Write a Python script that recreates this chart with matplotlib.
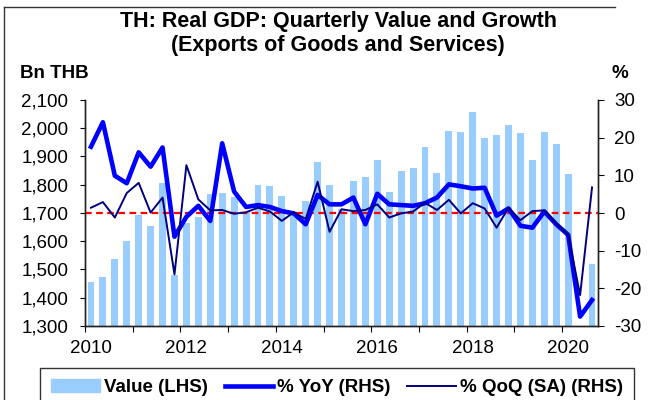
import numpy as np
import matplotlib
matplotlib.use('Agg')
import matplotlib.pyplot as plt
import matplotlib.lines as mlines
import matplotlib.patches as mp

plt.rcParams['font.family'] = ['Liberation Sans', 'DejaVu Sans']

# quarterly data 2010Q1 .. 2020Q3
years = list(range(2010, 2021))
year_labels = ['2010', '2012', '2014', '2016', '2018', '2020']
value = [1456, 1472, 1537, 1602, 1692, 1653, 1805, 1480, 1666, 1685, 1767,
         1771, 1758, 1705, 1800, 1797, 1761, 1702, 1744, 1882, 1800, 1715,
         1813, 1828, 1889, 1773, 1849, 1858, 1934, 1843, 1989, 1987, 2056,
         1967, 1975, 2013, 1984, 1888, 1986, 1943, 1839, 1290, 1520]
yoy = [17.6, 24.1, 9.9, 7.9, 16.1, 12.3, 17.4, -6.3, -1.0, 1.9, -2.1, 18.5,
       5.7, 1.6, 2.1, 1.6, 0.5, -0.1, -3.0, 4.8, 2.3, 2.3, 4.1, -3.0, 5.1,
       2.3, 2.1, 1.9, 2.6, 4.1, 7.6, 7.1, 6.5, 6.7, -0.7, 1.2, -3.4, -3.9,
       0.4, -3.0, -5.8, -27.5, -23.1]
qoq = [1.4, 2.9, -1.2, 5.3, 8.0, 0.1, 4.1, -16.3, 12.7, 3.6, 0.7, 0.8,
       -0.2, 0.2, 1.4, 0.4, -2.1, 0.2, -1.6, 8.3, -5.0, 1.0, 0.5, 0.8, 2.3,
       -1.2, -0.1, 0.4, 2.7, 0.8, 3.5, -0.1, 2.6, 1.2, -3.9, 1.4, -1.9, 0.5,
       0.7, -2.7, -5.8, -21.8, 6.8]

bar_color = '#99ccff'
yoy_color = '#0000ff'
qoq_color = '#000080'
fs = 13.5

n = len(value)
x = np.arange(n) + 0.5

fig = plt.figure(figsize=(6.48, 4.0), dpi=100)
ax = fig.add_axes([85/648, 1-326/400, (598-85)/648, 226/400])
ax.bar(x, value, width=0.58, color=bar_color, zorder=1)
ax.set_xlim(0, n)
ax.set_ylim(1300, 2100)
lt = np.arange(1300, 2101, 100)
ax.set_yticks(lt)
ax.set_yticklabels([f'{v:,}' for v in lt], fontsize=fs)

# year boundary ticks, labels under Q1 of even years
ax.set_xticks([4*i for i in range(len(years))])
ax.set_xticklabels([])
ax.set_xticks([8*i + 0.5 for i in range(len(year_labels))], minor=True)
ax.set_xticklabels(year_labels, minor=True, fontsize=fs)
ax.tick_params(axis='x', which='minor', length=0, pad=10)
ax.tick_params(axis='x', which='major', direction='out', length=4)
ax.tick_params(axis='y', direction='out', length=3.5, pad=8.5)

ax2 = ax.twinx()
ax2.set_ylim(-30, 30)
rt = np.arange(-30, 31, 10)
ax2.set_yticks(rt)
ax2.set_yticklabels([str(v) for v in rt], fontsize=fs)
ax2.tick_params(axis='y', direction='out', length=4, pad=7.5)
ax2.axhline(0, color='red', ls=(0, (3, 2)), lw=1.6, zorder=1)
ax2.plot(x, yoy, color=yoy_color, lw=3.3, zorder=2)
ax2.plot(x, qoq, color=qoq_color, lw=1.4, zorder=3)

for a in (ax, ax2):
    a.spines['top'].set_visible(False)
    for s in ('left', 'right', 'bottom'):
        a.spines[s].set_color('#222222')
        a.spines[s].set_linewidth(1.0)

fig.text(338/648, 1-22/400, 'TH: Real GDP: Quarterly Value and Growth',
         ha='center', va='center', fontsize=15.5, fontweight='bold')
fig.text(338/648, 1-46/400, '(Exports of Goods and Services)',
         ha='center', va='center', fontsize=15.5, fontweight='bold')
fig.text(20/648, 1-73/400, 'Bn THB', ha='left', va='center',
         fontsize=fs, fontweight='bold')
fig.text(612/648, 1-73/400, '%', ha='left', va='center',
         fontsize=fs, fontweight='bold')

handles = [mp.Patch(color=bar_color, label='Value (LHS)'),
           mlines.Line2D([], [], color=yoy_color, lw=3.3, label='% YoY (RHS)'),
           mlines.Line2D([], [], color=qoq_color, lw=1.4,
                         label='% QoQ (SA) (RHS)')]
leg = fig.legend(handles=handles, loc='upper center',
                 bbox_to_anchor=(337/648, 1-368/400), ncol=3, frameon=True,
                 fancybox=False, edgecolor='black', handlelength=2.6,
                 handletextpad=0.2, columnspacing=0.9, borderpad=0.6,
                 borderaxespad=0, prop={'size': fs, 'weight': 'bold'})
leg.get_frame().set_linewidth(1.0)

# outer frame
fig.add_artist(mlines.Line2D([4/648, 4/648], [0, 1-7/400], color='#333333',
                             lw=1.0, transform=fig.transFigure))
fig.add_artist(mlines.Line2D([4/648, 615/648], [1-7/400, 1-7/400],
                             color='#333333', lw=1.0,
                             transform=fig.transFigure))

fig.savefig('out.png', dpi=100)
